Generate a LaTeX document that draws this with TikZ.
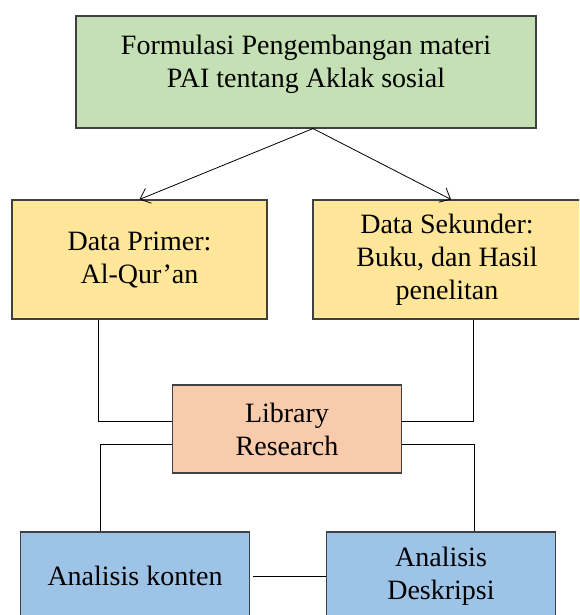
\documentclass[tikz,border=0pt]{standalone}
\usepackage{fontspec}
\setmainfont{Liberation Serif}
\usepackage{tikz}
\usetikzlibrary{arrows.meta}
\usetikzlibrary{calc}

\definecolor{kotakhijau}{HTML}{C5E0B4}
\definecolor{kotakkuning}{HTML}{FFE699}
\definecolor{kotakjingga}{HTML}{F8CBAD}
\definecolor{kotakbiru}{HTML}{9DC3E6}

\begin{document}
\begin{tikzpicture}[x=1pt,y=-1pt,
  kotak/.style={draw=black!75, line width=1.1pt, align=center,
    font=\fontsize{28}{33}\selectfont, inner sep=0pt},
  garis/.style={draw=black, line width=0.8pt},
  panah/.style={garis, -{Straight Barb[length=9pt,width=16pt]}}]

  \clip (0,0) rectangle (579,615);

  % Nodes
  \node[kotak, fill=kotakhijau, minimum width=460pt, minimum height=112pt,
    text depth=22pt] (formulasi) at (306,72)
    {Formulasi Pengembangan materi\\PAI tentang Aklak sosial};
  \node[kotak, fill=kotakkuning, minimum width=255pt, minimum height=119pt]
    (primer) at (139.5,259.5) {Data Primer:\\Al-Qur’an};
  \node[kotak, fill=kotakkuning, minimum width=268pt, minimum height=119pt]
    (sekunder) at (447,259.5) {Data Sekunder:\\Buku, dan Hasil\\penelitan};
  \node[kotak, fill=kotakjingga, minimum width=229pt, minimum height=88pt]
    (library) at (287,429) {Library\\Research};
  \node[kotak, fill=kotakbiru, minimum width=229pt, minimum height=88pt]
    (konten) at (135,576) {Analisis konten};
  \node[kotak, fill=kotakbiru, minimum width=229pt, minimum height=88pt]
    (deskripsi) at (441,576) {Analisis\\Deskripsi};

  % Arrows from the top box
  \draw[panah] ([xshift=7pt]formulasi.south) -- (primer.north);
  \draw[panah] ([xshift=7pt]formulasi.south) -- ([xshift=4pt]sekunder.north);

  % Lines into and out of the library box
  \draw[garis] ([xshift=-41.5pt]primer.south) |- ([yshift=8pt]library.west);
  \draw[garis] ([xshift=26pt]sekunder.south) |- ([yshift=8pt]library.east);
  \draw[garis] ([yshift=-15pt]library.west) -| ([xshift=-35pt]konten.north);
  \draw[garis] ([yshift=-15pt]library.east) -| ([xshift=33pt]deskripsi.north);
  \draw[garis] ([xshift=3pt]konten.east) -- (deskripsi.west);

\end{tikzpicture}
\end{document}
